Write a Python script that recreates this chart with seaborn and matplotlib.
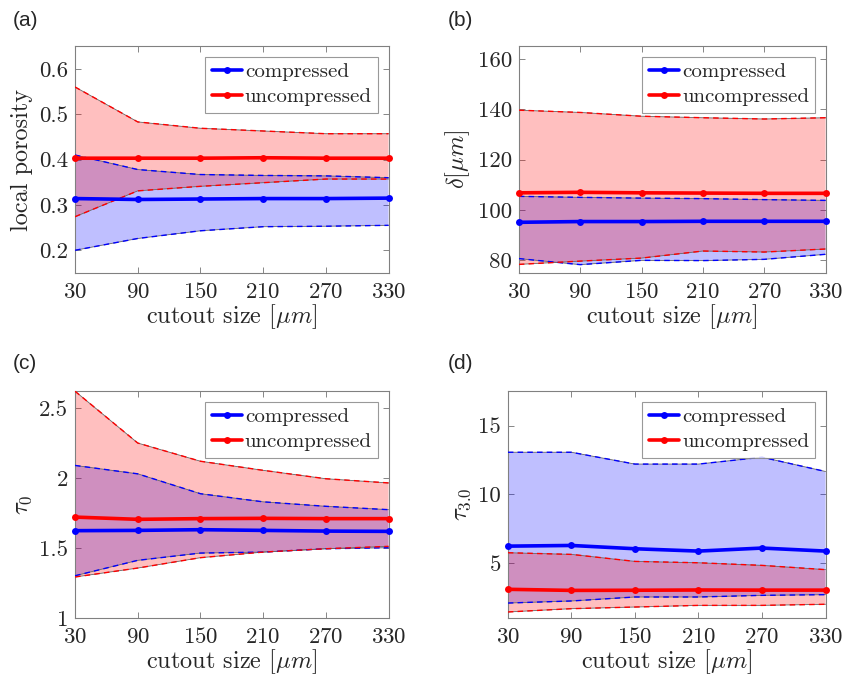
import pandas as pd
import seaborn as sns
import matplotlib.pyplot as plt
from matplotlib.ticker import FormatStrFormatter

# cutout sizes (x axis)
sizes = [30, 90, 150, 210, 270, 330]

# (a) local porosity
por_c_mean = [0.314, 0.312, 0.313, 0.314, 0.314, 0.315]
por_c_lo = [0.200, 0.226, 0.243, 0.252, 0.253, 0.255]
por_c_hi = [0.410, 0.378, 0.367, 0.365, 0.364, 0.360]
por_u_mean = [0.403, 0.403, 0.403, 0.404, 0.403, 0.403]
por_u_lo = [0.274, 0.331, 0.341, 0.349, 0.357, 0.357]
por_u_hi = [0.560, 0.483, 0.469, 0.463, 0.457, 0.457]

# (b) delta [um]
del_c_mean = [95.1, 95.4, 95.4, 95.5, 95.5, 95.5]
del_c_lo = [80.7, 78.3, 80.0, 79.9, 80.4, 82.4]
del_c_hi = [105.4, 105.0, 104.7, 104.5, 104.1, 103.8]
del_u_mean = [106.8, 107.0, 106.8, 106.7, 106.6, 106.6]
del_u_lo = [78.4, 79.7, 80.9, 83.7, 83.3, 84.5]
del_u_hi = [139.6, 138.7, 137.2, 136.6, 136.1, 136.6]

# (c) tau_0
t0_c_mean = [1.624, 1.626, 1.631, 1.626, 1.621, 1.619]
t0_c_lo = [1.302, 1.412, 1.464, 1.471, 1.495, 1.502]
t0_c_hi = [2.09, 2.03, 1.888, 1.83, 1.798, 1.774]
t0_u_mean = [1.721, 1.705, 1.710, 1.712, 1.710, 1.710]
t0_u_lo = [1.293, 1.357, 1.431, 1.471, 1.495, 1.512]
t0_u_hi = [2.62, 2.25, 2.12, 2.055, 1.995, 1.965]

# (d) tau_3.0
t3_c_mean = [6.23, 6.28, 6.04, 5.87, 6.09, 5.87]
t3_c_lo = [2.09, 2.24, 2.53, 2.53, 2.65, 2.70]
t3_c_hi = [13.06, 13.06, 12.2, 12.2, 12.7, 11.66]
t3_u_mean = [3.09, 3.01, 3.02, 3.04, 3.03, 3.03]
t3_u_lo = [1.44, 1.68, 1.80, 1.92, 1.92, 2.00]
t3_u_hi = [5.75, 5.63, 5.12, 5.02, 4.83, 4.52]

sns.set_style('ticks')
plt.rcParams['font.family'] = ['cmr10']
plt.rcParams['mathtext.fontset'] = 'cm'
plt.rcParams['axes.formatter.use_mathtext'] = True
plt.rcParams['axes.unicode_minus'] = False

panels = [
    ('(a)', [0.0888, 0.598, 0.371, 0.334], 'local porosity', (0.15, 0.65), [0.2, 0.3, 0.4, 0.5, 0.6],
     (por_c_mean, por_c_lo, por_c_hi), (por_u_mean, por_u_lo, por_u_hi), (0.015, 0.97)),
    ('(b)', [0.614, 0.598, 0.363, 0.334], r'$\delta[\mu m]$', (75, 165), [80, 100, 120, 140, 160],
     (del_c_mean, del_c_lo, del_c_hi), (del_u_mean, del_u_lo, del_u_hi), (0.53, 0.97)),
    ('(c)', [0.0888, 0.0898, 0.371, 0.334], r'$\tau_0$', (1.0, 2.62), [1, 1.5, 2, 2.5],
     (t0_c_mean, t0_c_lo, t0_c_hi), (t0_u_mean, t0_u_lo, t0_u_hi), (0.015, 0.465)),
    ('(d)', [0.601, 0.0898, 0.376, 0.334], r'$\tau_{3.0}$', (1.0, 17.5), [5, 10, 15],
     (t3_c_mean, t3_c_lo, t3_c_hi), (t3_u_mean, t3_u_lo, t3_u_hi), (0.53, 0.465)),
]

fig = plt.figure(figsize=(8.45, 6.79), dpi=100)

for tag, rect, ylabel, ylim, yticks, comp, unc, tagpos in panels:
    ax = fig.add_axes(rect)
    # shaded ranges: compressed first, uncompressed on top
    for (mean, lo, hi), col in [(comp, 'blue'), (unc, 'red')]:
        ax.fill_between(sizes, lo, hi, facecolor=col, alpha=0.25,
                        edgecolor='none', zorder=1)
    for (mean, lo, hi), col in [(comp, 'blue'), (unc, 'red')]:
        ax.plot(sizes, lo, color='0.4', lw=0.6, zorder=2)
        ax.plot(sizes, hi, color='0.4', lw=0.6, zorder=2)
        ax.plot(sizes, lo, color=col, lw=1.0, ls=(0, (4, 3)), zorder=3)
        ax.plot(sizes, hi, color=col, lw=1.0, ls=(0, (4, 3)), zorder=3)
    df = pd.DataFrame({'size': sizes * 2,
                       'value': list(comp[0]) + list(unc[0]),
                       'group': ['compressed'] * 6 + ['uncompressed'] * 6})
    sns.lineplot(data=df, x='size', y='value', hue='group',
                 palette={'compressed': 'blue', 'uncompressed': 'red'},
                 marker='o', markersize=5, markeredgewidth=0, linewidth=2.6,
                 ax=ax, zorder=4, clip_on=False)
    ax.set_xlim(30, 330)
    ax.set_ylim(*ylim)
    ax.set_xticks(sizes)
    ax.set_yticks(yticks)
    ax.yaxis.set_major_formatter(FormatStrFormatter('%g'))
    ax.tick_params(direction='in', top=True, right=True, length=4,
                   width=0.6, color='0.45', labelsize=16.5, pad=5)
    ax.tick_params(axis='x', pad=6.5)
    for s in ax.spines.values():
        s.set_visible(True)
        s.set_color('0.5')
        s.set_linewidth(0.8)
    ax.set_xlabel(r'cutout size $[\mu m]$', fontsize=17.5, labelpad=0)
    ax.set_ylabel(ylabel, fontsize=17.5, labelpad=4)
    leg = ax.legend(loc='upper right', fontsize=15, frameon=True, fancybox=False,
                    edgecolor='0.5', handlelength=1.45, handletextpad=0.15,
                    borderpad=0.3, labelspacing=0.3, borderaxespad=0.5)
    leg.get_frame().set_linewidth(0.8)
    fig.text(tagpos[0], tagpos[1], tag, fontsize=15, family='Liberation Sans',
             ha='left', va='center')

fig.savefig('out.png', dpi=100)
